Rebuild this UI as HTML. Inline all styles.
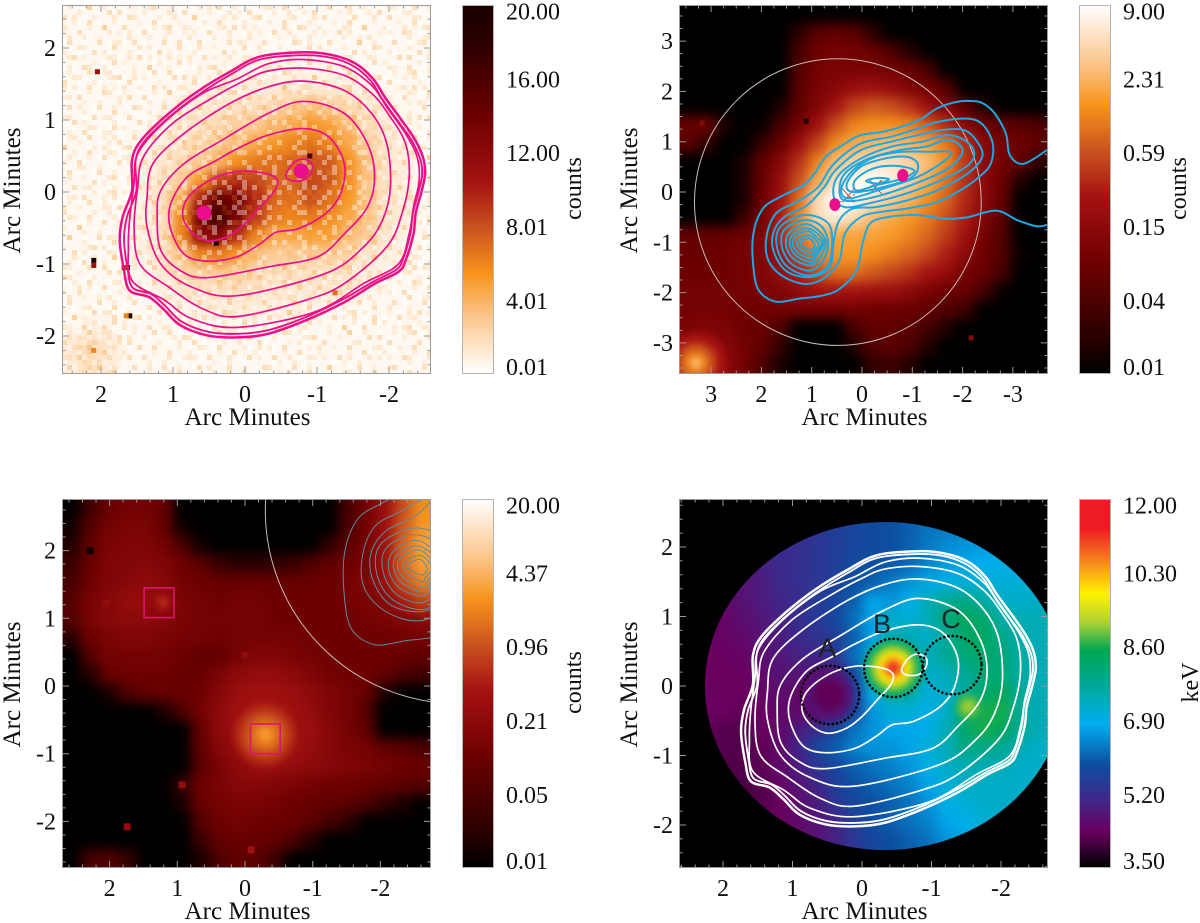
<!DOCTYPE html>
<html lang="en">
<head>
<meta charset="utf-8">
<title>Four panel X-ray maps</title>
<style>
html,body{margin:0;padding:0;background:#fff;}
svg{display:block;}
text{font-family:"Liberation Serif","DejaVu Serif",serif;fill:#111;}
</style>
</head>
<body>
<svg id="figure" xmlns="http://www.w3.org/2000/svg" width="1200" height="923" viewBox="0 0 1200 923">
<defs id="defs">
<filter id="blurFine" filterUnits="userSpaceOnUse" x="-100" y="-100" width="1400" height="1200" color-interpolation-filters="sRGB"><feGaussianBlur stdDeviation="5"/></filter>
<filter id="blurWide" filterUnits="userSpaceOnUse" x="-100" y="-100" width="1400" height="1200" color-interpolation-filters="sRGB"><feGaussianBlur stdDeviation="6"/></filter>
<filter id="blurSoft" filterUnits="userSpaceOnUse" x="-100" y="-100" width="1400" height="1200" color-interpolation-filters="sRGB"><feGaussianBlur stdDeviation="3.2"/></filter>
</defs>
</svg>
<script>
const axisTicksP1 = [2, 1, 0, -1, -2];
const axisTicksP2 = [3, 2, 1, 0, -1, -2, -3];
const axisTicksP3 = [2, 1, 0, -1, -2];
const axisTicksP4 = [2, 1, 0, -1, -2];
const colorLabelsP1 = ["0.01", "4.01", "8.01", "12.00", "16.00", "20.00"];
const colorLabelsP2 = ["0.01", "0.04", "0.15", "0.59", "2.31", "9.00"];
const colorLabelsP3 = ["0.01", "0.05", "0.21", "0.96", "4.37", "20.00"];
const colorLabelsP4 = ["3.50", "5.20", "6.90", "8.60", "10.30", "12.00"];
const colorLabelFractions = [0.019, 0.198, 0.398, 0.599, 0.798, 0.982];

const hotStops = [[0,"#000000"],[10,"#2b0000"],[30,"#6e0000"],[48,"#a51212"],[60,"#c8501e"],[73,"#f7941d"],[85,"#fcc890"],[100,"#ffffff"]];
const invertedHotStops = [[0,"#ffffff"],[15,"#fcc890"],[27,"#f7941d"],[40,"#c8501e"],[52,"#a51212"],[70,"#6e0000"],[90,"#2b0000"],[100,"#1a0000"]];
const spectrumStops = [[0,"#000000"],[10,"#6a0060"],[19,"#3b2a8c"],[28,"#0d4ea0"],[39,"#00aeef"],[49,"#00a99d"],[59,"#00a651"],[67,"#b5d334"],[74.5,"#fff200"],[82,"#f7941d"],[92,"#ed1c24"],[100,"#ed1c24"]];

const levelsP1 = [
[2,2,2,2,2,2,2,2,2,2,2,2,2,2,2,2,2,2,2,2],
[2,2,2,2,2,2,2,2,2,2,2,2,2,2,2,2,2,2,2,2],
[2,2,2,2,2,2,2,2,2,2,2,2,2,2,2,2,2,2,2,2],
[2,2,2,2,2,2,2,2,3,3,3,3,3,3,3,3,2,2,2,2],
[2,2,2,2,2,2,3,3,4,4,5,6,6,6,6,5,3,2,2,2],
[2,2,2,2,2,3,4,6,7,8,9,11,14,17,14,11,7,4,2,2],
[2,2,2,2,2,4,6,8,11,13,15,18,22,26,24,17,10,6,3,2],
[2,2,2,2,3,5,8,11,14,17,22,26,30,33,30,22,13,7,4,2],
[2,2,2,2,4,7,10,14,20,28,32,34,36,40,38,28,16,8,5,2],
[2,2,2,2,5,8,14,26,42,48,42,36,36,42,38,28,16,8,5,2],
[2,2,2,2,5,9,22,50,72,68,48,36,34,40,34,26,16,8,5,2],
[2,2,2,2,5,9,30,68,82,66,44,32,30,32,28,22,16,8,5,2],
[2,2,2,2,5,9,30,60,62,46,30,22,22,24,24,18,14,7,4,2],
[2,2,2,2,4,8,16,30,32,26,17,14,14,14,14,11,7,5,3,2],
[2,2,2,2,3,6,10,13,14,14,11,9,9,8,8,7,5,3,2,2],
[2,2,2,2,2,4,6,7,8,8,7,6,6,6,6,7,3,2,2,2],
[2,2,2,2,2,2,3,4,5,5,5,5,5,4,3,2,2,2,2,2],
[2,5,3,2,2,2,2,2,2,2,2,2,2,2,2,2,2,2,2,2],
[6,11,7,2,2,2,2,2,2,2,2,2,2,2,2,2,2,2,2,2],
[5,9,6,2,2,2,2,2,2,2,2,2,2,2,2,2,2,2,2,2]
];
const levelsP2 = [
[0,0,0,0,0,0,0,0,0,0,0,0,0,0,0,0,0,0,0,0],
[0,0,0,0,0,0,10,24,26,24,10,0,0,0,0,0,0,0,0,0],
[0,0,0,0,0,0,18,30,32,32,28,20,8,0,0,0,0,0,0,0],
[0,0,0,0,0,0,22,32,34,34,34,32,28,18,0,0,0,0,0,0],
[0,0,0,0,0,0,24,34,38,44,46,42,36,32,22,0,0,0,0,0],
[0,0,0,0,0,6,26,36,48,58,62,60,54,44,36,24,8,0,0,0],
[28,28,6,0,2,18,32,46,60,70,72,72,70,62,52,38,30,26,24,20],
[24,12,0,0,14,28,44,58,72,78,80,82,80,76,68,54,38,32,30,26],
[0,0,0,6,26,38,54,70,82,88,92,92,88,82,72,56,40,32,26,12],
[0,0,0,6,28,44,60,78,92,98,100,96,88,78,66,54,40,30,8,0],
[0,0,0,6,30,46,66,90,100,100,92,86,80,72,64,52,40,28,0,0],
[0,0,0,14,32,50,70,90,96,90,82,78,74,68,60,50,36,24,0,0],
[28,28,28,30,36,52,66,78,78,76,76,74,70,64,56,46,32,22,0,0],
[28,28,30,32,36,46,60,70,74,74,72,68,64,58,50,40,30,22,2,0],
[30,30,30,32,36,42,50,60,66,66,62,58,54,48,42,32,28,18,0,0],
[32,32,32,32,34,36,42,46,48,48,46,44,40,34,30,28,18,2,0,0],
[32,32,32,30,30,32,32,32,32,32,30,30,28,26,22,16,0,0,0,0],
[34,36,34,30,28,20,0,0,0,18,26,26,24,18,6,0,0,0,0,0],
[40,44,38,32,26,12,0,0,0,8,22,24,20,8,0,0,0,0,0,0],
[46,50,40,32,20,6,0,0,0,0,12,14,8,0,0,0,0,0,0,0]
];
const levelsP3 = [
[0,16,28,32,32,28,0,0,0,0,0,0,0,0,0,18,32,44,60,72],
[4,22,32,34,34,28,4,0,0,0,0,0,0,0,0,20,32,46,62,74],
[8,26,34,36,36,32,20,4,0,0,0,0,0,0,12,24,32,46,64,76],
[14,28,36,36,38,36,30,24,14,10,10,12,14,22,26,30,34,46,64,76],
[18,30,36,38,40,38,32,30,28,28,28,28,28,28,30,32,36,44,60,70],
[22,34,38,42,42,40,34,32,30,32,32,30,30,30,30,32,34,38,50,58],
[22,34,38,40,40,38,34,32,32,32,32,30,30,30,30,30,32,34,36,40],
[10,30,34,36,36,34,32,32,30,32,32,32,32,30,30,30,30,30,32,32],
[0,22,32,32,32,32,30,26,26,32,36,36,34,32,30,30,30,30,28,26],
[0,8,28,30,30,30,28,28,34,40,42,42,40,36,32,30,30,26,20,16],
[0,0,6,20,26,28,28,30,38,44,46,46,44,40,36,32,28,6,0,0],
[0,0,0,0,0,6,20,32,40,46,48,48,46,42,36,32,22,0,0,0],
[0,0,0,0,0,0,0,28,40,46,48,48,46,44,38,32,26,0,0,0],
[0,0,0,0,0,0,0,26,38,44,46,46,46,42,38,34,32,26,24,20],
[0,0,0,0,0,0,0,24,34,40,44,44,42,40,38,36,34,32,30,28],
[0,0,0,0,0,0,12,30,34,38,38,36,34,32,30,30,28,26,24,22],
[0,0,0,0,0,0,6,28,32,34,34,32,30,28,26,24,20,12,6,0],
[0,0,0,0,0,0,0,22,30,32,30,30,28,24,18,10,0,0,0,0],
[0,0,0,0,0,0,0,14,26,28,28,26,20,8,0,0,0,0,0,0],
[0,18,22,14,0,0,0,6,20,26,24,16,0,0,0,0,0,0,0,0]
];
const levelsP4 = [
[15,15,16,17,18,19,20,22,24,26,27,28,30,32,33,34,35,36,36,36],
[15,15,16,17,18,19,20,22,24,26,27,28,30,32,33,34,35,36,36,36],
[14,14,15,16,18,19,20,22,24,26,27,28,30,33,35,36,37,38,38,38],
[13,13,14,15,17,19,20,22,24,27,28,29,31,34,37,38,39,40,40,40],
[12,12,13,14,16,19,20,22,25,28,30,33,36,38,41,42,42,42,42,42],
[11,11,12,14,16,18,20,23,26,30,38,36,40,46,50,52,48,44,44,44],
[10,10,11,13,15,17,20,23,26,32,38,44,42,46,54,58,56,48,46,46],
[10,10,11,12,14,16,19,21,24,30,38,46,46,44,50,56,57,52,47,46],
[10,10,10,11,13,15,17,18,22,32,42,50,50,46,50,54,56,54,48,46],
[10,10,10,10,12,14,14,13,14,26,42,50,50,44,46,50,54,54,48,46],
[10,10,10,10,11,13,11,11,11,22,40,48,48,42,44,48,56,58,50,46],
[10,10,10,9,10,12,12,11,14,24,36,42,42,40,44,54,60,60,50,46],
[9,9,8,8,10,12,16,20,26,32,36,38,38,40,46,56,60,58,50,46],
[8,8,8,8,9,12,18,26,30,34,36,36,38,42,46,52,52,50,46,44],
[6,6,7,8,9,12,16,22,26,30,32,34,36,40,44,46,46,46,44,44],
[5,5,6,7,8,11,14,18,24,28,30,32,34,38,42,44,44,44,44,44],
[4,4,5,6,8,10,13,16,22,26,28,30,32,36,40,42,44,44,44,44],
[4,4,5,6,8,10,12,14,18,24,28,30,32,34,38,40,42,42,42,42],
[4,4,5,6,8,10,12,14,17,22,26,28,30,32,36,38,40,40,40,40],
[4,4,5,6,8,10,12,14,17,22,26,28,30,32,36,38,40,40,40,40]
];

/* extended sources: x, y (arcmin), radius (arcmin), level */
const sourcesP2 = [[3.30,-3.40,0.60,48],[3.30,-3.40,0.42,58],[3.30,-3.40,0.27,68],[3.30,-3.40,0.14,76],[3.30,-3.40,0.05,92]];
const sourcesP3 = [[-0.30,-0.72,0.46,52],[-0.30,-0.72,0.36,58],[-0.30,-0.72,0.26,64],[-0.30,-0.72,0.16,70],[-0.30,-0.72,0.07,76],[1.21,1.24,0.14,46],[1.21,1.24,0.06,56]];
const sourcesP4 = [[-0.45,0.26,0.42,56],[-0.45,0.26,0.35,63],[-0.45,0.26,0.28,70],[-0.45,0.26,0.21,76],[-0.45,0.26,0.14,84],[-0.45,0.26,0.07,96],[-1.53,-0.30,0.18,62],[-1.53,-0.30,0.10,66],[0.48,-0.13,0.34,14],[0.48,-0.13,0.22,9]];

/* single bright pixels: x, y (arcmin), level */
const pixelsP1 = [[2.10,-0.95,98],[2.10,-1.02,55],[1.63,-1.05,96],[1.68,-1.05,45],[1.60,-1.72,98],[1.65,-1.72,30],[2.05,1.67,55],[0.40,-0.71,95],[0.55,-0.23,98],[-0.90,0.50,80],[-1.25,-1.40,34],[2.10,-2.20,30]];
const pixelsP2 = [[-2.17,-2.90,38],[3.18,1.37,38],[1.11,1.41,8]];
const pixelsP3 = [[2.05,1.22,42],[0.93,-1.46,42],[1.74,-2.08,42],[-0.09,-2.42,46],[2.29,2.00,4],[0.00,0.45,40]];
const pixelsP4 = [];

/* X-ray contours in arcminutes, used in the counts map and the temperature map */
const xrayContours = [
[[-0.82,1.94],[-1.22,1.90],[-1.54,1.78],[-1.78,1.57],[-1.94,1.32],[-2.13,1.06],[-2.34,0.76],[-2.47,0.49],[-2.50,0.25],[-2.45,0],[-2.37,-0.30],[-2.34,-0.58],[-2.23,-0.95],[-2.13,-1.11],[-1.81,-1.27],[-1.38,-1.53],[-0.85,-1.78],[-0.32,-1.97],[0.11,-2.02],[0.53,-1.99],[0.90,-1.85],[1.14,-1.62],[1.33,-1.46],[1.60,-1.37],[1.68,-1.09],[1.74,-0.67],[1.70,-0.35],[1.57,0.02],[1.57,0.44],[1.44,0.72],[1.06,1.09],[0.64,1.41],[0.21,1.67],[-0.21,1.88]],
[[-0.82,1.90],[-1.22,1.86],[-1.52,1.74],[-1.75,1.54],[-1.90,1.30],[-2.09,1.03],[-2.30,0.74],[-2.43,0.47],[-2.46,0.24],[-2.41,0],[-2.33,-0.30],[-2.30,-0.56],[-2.20,-0.92],[-2.10,-1.08],[-1.79,-1.24],[-1.36,-1.49],[-0.84,-1.74],[-0.32,-1.92],[0.11,-1.97],[0.52,-1.94],[0.88,-1.80],[1.11,-1.58],[1.30,-1.42],[1.56,-1.33],[1.63,-1.07],[1.68,-0.66],[1.64,-0.35],[1.51,0.02],[1.52,0.43],[1.40,0.70],[1.03,1.06],[0.62,1.37],[0.20,1.63],[-0.21,1.84]],
[[-0.82,1.84],[-1.38,1.74],[-1.76,1.48],[-1.97,1.18],[-2.23,0.81],[-2.39,0.49],[-2.42,0.16],[-2.34,-0.21],[-2.28,-0.58],[-2.13,-1.00],[-1.65,-1.27],[-0.96,-1.67],[0.11,-1.88],[0.74,-1.76],[1.12,-1.50],[1.57,-1.23],[1.62,-0.76],[1.60,-0.35],[1.54,0.12],[1.49,0.53],[1.12,0.97],[0.59,1.37],[0.11,1.57],[-0.32,1.78]],
[[-0.82,1.72],[-1.38,1.62],[-1.76,1.37],[-2.02,1.04],[-2.23,0.67],[-2.28,0.21],[-2.18,-0.30],[-1.97,-0.76],[-1.38,-1.27],[-0.85,-1.50],[0.11,-1.73],[0.59,-1.62],[1.06,-1.32],[1.46,-1.00],[1.54,-0.49],[1.49,0.07],[1.41,0.49],[1.01,0.95],[0.43,1.32],[0,1.55],[-0.32,1.68]],
[[-0.82,1.54],[-1.38,1.41],[-1.76,1.09],[-1.97,0.67],[-2.02,0.07],[-1.91,-0.39],[-1.65,-0.76],[-1.12,-1.13],[0.11,-1.44],[0.74,-1.32],[1.17,-1.00],[1.36,-0.49],[1.36,-0.07],[1.28,0.39],[0.85,0.81],[0.21,1.23],[-0.32,1.46]],
[[-0.82,1.26],[-1.38,1.09],[-1.70,0.67],[-1.80,0.21],[-1.70,-0.21],[-1.38,-0.58],[-1.01,-0.90],[-0.32,-1.04],[0.53,-1.19],[0.90,-1.09],[1.17,-0.81],[1.22,-0.35],[1.17,0.02],[0.85,0.39],[0.32,0.72],[-0.32,1.09]],
[[0.11,0.60],[-0.32,0.79],[-0.82,0.88],[-1.17,0.76],[-1.38,0.39],[-1.33,-0.02],[-1.12,-0.30],[-0.74,-0.51],[-0.43,-0.56],[-0.21,-0.72],[0.11,-0.90],[0.53,-0.96],[0.85,-0.86],[1.04,-0.49],[1.03,-0.16],[0.80,0.21],[0.43,0.42]],
[[0,0.29],[-0.32,0.25],[-0.45,0.16],[-0.40,0],[-0.21,-0.21],[0,-0.44],[0.21,-0.60],[0.48,-0.68],[0.69,-0.60],[0.84,-0.42],[0.86,-0.23],[0.77,-0.05],[0.53,0.14],[0.27,0.25]],
[[-0.80,0.46],[-0.93,0.39],[-0.91,0.25],[-0.80,0.16],[-0.64,0.16],[-0.57,0.23],[-0.66,0.39]]
];
const xrayContourWidths = [2.5,1.9,1.7,1.7,1.7,1.7,1.7,1.7,1.7];

/* lensing contours in arcminutes */
const lensingOuter = [[-3.70,0.85],[-3.21,0.56],[-2.94,0.73],[-2.86,1.16],[-2.64,1.56],[-2.41,1.76],[-2.18,1.81],[-1.87,1.79],[-1.49,1.66],[-1.19,1.46],[-0.88,1.33],[-0.43,1.20],[0.03,1.13],[0.34,0.96],[0.72,0.70],[0.94,0.37],[1.17,0.13],[1.63,-0.10],[1.97,-0.33],[2.16,-0.83],[2.16,-1.49],[2.05,-1.96],[1.71,-2.18],[1.25,-2.12],[0.79,-2.06],[0.45,-1.93],[0.11,-1.56],[-0.01,-1.03],[-0.16,-0.63],[-0.50,-0.50],[-1.11,-0.46],[-1.65,-0.53],[-2.10,-0.50],[-2.67,-0.37],[-3.09,-0.56],[-3.47,-0.68],[-3.70,-0.65]];
const lensingClosed = [
[[-2.10,1.46],[-2.41,1.33],[-2.60,0.96],[-2.56,0.56],[-2.33,0.30],[-1.95,0.03],[-1.49,-0.20],[-0.88,-0.33],[-0.35,-0.40],[0.03,-0.50],[0.34,-0.83],[0.45,-1.36],[0.72,-1.69],[1.10,-1.83],[1.55,-1.69],[1.86,-1.36],[1.90,-0.90],[1.71,-0.43],[1.25,-0.17],[0.87,0.10],[0.56,0.56],[0.03,0.96],[-0.58,1.10],[-1.11,1.26],[-1.49,1.39]],
[[-2.03,1.23],[-2.29,1.0],[-2.39,0.70],[-2.10,0.37],[-1.49,0.03],[-0.88,-0.17],[-0.27,-0.30],[0.18,-0.33],[0.45,-0.56],[0.56,-0.96],[0.64,-1.49],[1.02,-1.69],[1.48,-1.59],[1.74,-1.23],[1.77,-0.83],[1.55,-0.50],[1.10,-0.27],[0.75,0.10],[0.53,0.43],[0.03,0.83],[-0.58,1.0],[-1.11,1.13],[-1.57,1.23]],
[[-1.99,1.06],[-2.22,0.83],[-2.14,0.56],[-1.65,0.27],[-0.88,-0.03],[-0.12,-0.23],[0.34,-0.30],[0.56,-0.10],[0.49,0.30],[0.03,0.66],[-0.58,0.90],[-1.19,1.0],[-1.65,1.13]],
[[-1.91,0.96],[-1.99,0.76],[-1.65,0.43],[-0.88,0.10],[-0.12,-0.13],[0.34,-0.17],[0.45,0.03],[0.34,0.37],[-0.12,0.66],[-0.73,0.83],[-1.26,0.90],[-1.65,1.03]],
[[-1.76,0.80],[-1.65,0.63],[-1.11,0.30],[-0.43,0.07],[0.26,-0.13],[0.41,0.07],[0.18,0.43],[-0.27,0.70],[-0.81,0.80],[-1.34,0.80]],
[[-1.11,0.56],[-1.0,0.30],[-0.43,0.10],[0.18,0],[0.30,0.17],[0.03,0.50],[-0.43,0.66],[-0.88,0.70]],
[[-1.04,0.43],[-0.81,0.27],[-0.27,0.13],[0.11,0.03],[0.14,0.23],[-0.20,0.46],[-0.65,0.52]],
[[-0.54,0.25],[-0.31,0.17],[-0.08,0.22],[-0.31,0.28]],
[[0.60,-0.83],[0.66,-1.43],[1.02,-1.66],[1.48,-1.49],[1.69,-1.10],[1.63,-0.70],[1.17,-0.46],[0.75,-0.56]],
[[0.68,-0.96],[0.75,-1.33],[1.02,-1.56],[1.40,-1.43],[1.59,-1.10],[1.55,-0.76],[1.17,-0.56],[0.83,-0.66]],
[[0.72,-1.0],[0.83,-1.30],[1.02,-1.46],[1.36,-1.33],[1.51,-1.06],[1.44,-0.80],[1.13,-0.64],[0.87,-0.76]],
[[0.76,-1.02],[0.90,-1.26],[1.01,-1.40],[1.32,-1.26],[1.44,-1.02],[1.36,-0.83],[1.10,-0.72],[0.88,-0.83]],
[[0.80,-1.03],[0.93,-1.23],[1.01,-1.33],[1.28,-1.20],[1.38,-1.02],[1.29,-0.86],[1.06,-0.78],[0.90,-0.90]],
[[0.86,-1.05],[0.96,-1.18],[1.01,-1.25],[1.22,-1.14],[1.30,-1.02],[1.22,-0.92],[1.05,-0.86],[0.94,-0.93]],
[[0.94,-1.05],[1.01,-1.15],[1.18,-1.08],[1.22,-1.0],[1.05,-0.92]]
];
const lensingOffsetP3 = [-3.63, 2.79];

const galaxyPointsP1 = [[0.57,-0.29],[-0.78,0.29]];
const galaxyPointsP2 = [[0.54,-0.25],[-0.81,0.33]];
const crossPointsP2 = [[-0.27,0.10],[0.27,-0.07]];
const fieldCircleP2 = [0.48,-0.20,2.85];
const boxRegionsP3 = [[1.27,1.23,0.22],[-0.30,-0.78,0.22]];
const extractionCirclesP4 = [[0.46,-0.13,0.42],[-0.45,0.26,0.42],[-1.30,0.30,0.42]];
const regionLabelsP4 = [["A",0.50,0.56],["B",-0.29,0.91],["C",-1.28,0.98]];
const diskP4 = [-0.33,0,2.59,2.36];
const noiseTileA = ["w.w..o...w..",".....w.w.o.w","w.o.w.....o.","...w...w...w","o....w..o.w.","w..w.....o.w",".o...w.w....","w...w....w.o",".w.o..w.....","...w..w..w..",".o..w....o.w","w.....w.w..."];
const noiseTileB = [".p...o..p....","...p.....p.o.","o.....p......","..p..o....p..",".....p..o...p","p..o.......p.","....p..p.....",".o.....o..p..","....p.....o..","p.....o.p....","..o.p.....p..","......p...o.p",".p..o...p...."];

const NS = "http://www.w3.org/2000/svg";
const svg = document.getElementById("figure");
const defs = document.getElementById("defs");

function mk(parent, tag, attrs, text) {
  const el = document.createElementNS(NS, tag);
  for (const k in attrs) el.setAttribute(k, attrs[k]);
  if (text !== undefined) el.textContent = text;
  parent.appendChild(el);
  return el;
}
function hex(c){return [parseInt(c.slice(1,3),16),parseInt(c.slice(3,5),16),parseInt(c.slice(5,7),16)];}
function colorAt(stops, v) {
  if (v <= stops[0][0]) return stops[0][1];
  for (let i = 1; i < stops.length; i++) {
    if (v <= stops[i][0]) {
      const a = stops[i-1], b = stops[i], t = (v-a[0])/(b[0]-a[0]);
      const ca = hex(a[1]), cb = hex(b[1]);
      return "rgb(" + ca.map((c,j)=>Math.round(c+(cb[j]-c)*t)).join(",") + ")";
    }
  }
  return stops[stops.length-1][1];
}
function smoothPath(pts, closed) {
  const n = pts.length;
  const at = i => closed ? pts[(i+n)%n] : pts[Math.max(0,Math.min(n-1,i))];
  let d = "M" + pts[0][0].toFixed(1) + " " + pts[0][1].toFixed(1);
  const last = closed ? n : n-1;
  for (let i = 0; i < last; i++) {
    const p0=at(i-1),p1=at(i),p2=at(i+1),p3=at(i+2);
    d += "C"+(p1[0]+(p2[0]-p0[0])/6).toFixed(1)+" "+(p1[1]+(p2[1]-p0[1])/6).toFixed(1)+" "+(p2[0]-(p3[0]-p1[0])/6).toFixed(1)+" "+(p2[1]-(p3[1]-p1[1])/6).toFixed(1)+" "+p2[0].toFixed(1)+" "+p2[1].toFixed(1);
  }
  return d + (closed ? "Z" : "");
}

const panels = [
 {id:"p1",l:62,r:431,t:5,b:374,cx:245,cy:192,s:72,ticks:axisTicksP1,minor:0.2,levels:levelsP1,stops:invertedHotStops,sources:[],pixels:pixelsP1,pixelSize:5,blur:"blurFine",bg:"#ffffff",labels:colorLabelsP1,unit:"counts",cbL:462,tickRight:56,yTitleX:20,cbText:506,unitX:581},
 {id:"p2",l:679,r:1048,t:5,b:374,cx:862,cy:192,s:50.3,ticks:axisTicksP2,minor:0.25,levels:levelsP2,stops:hotStops,sources:sourcesP2,pixels:pixelsP2,pixelSize:5,blur:"blurWide",bg:"#000000",labels:colorLabelsP2,unit:"counts",cbL:1079,tickRight:673,yTitleX:637,cbText:1123,unitX:1186},
 {id:"p3",l:62,r:431,t:499,b:868,cx:245,cy:686,s:67.7,ticks:axisTicksP3,minor:0.2,levels:levelsP3,stops:hotStops,sources:sourcesP3,pixels:pixelsP3,pixelSize:7,blur:"blurWide",bg:"#000000",labels:colorLabelsP3,unit:"counts",cbL:462,tickRight:56,yTitleX:20,cbText:506,unitX:581},
 {id:"p4",l:679,r:1048,t:499,b:868,cx:862,cy:686,s:69.5,ticks:axisTicksP4,minor:0.2,levels:levelsP4,stops:spectrumStops,sources:sourcesP4,pixels:pixelsP4,pixelSize:5,blur:"blurWide",bg:"#000000",labels:colorLabelsP4,unit:"keV",cbL:1079,tickRight:673,yTitleX:637,cbText:1123,unitX:1198}
];
const xOf = (p,v) => p.cx - v*p.s;
const yOf = (p,v) => p.cy - v*p.s;

function contourPath(parent, p, points, closed, color, width, dx, dy) {
  const px = points.map(q => [xOf(p,q[0]+(dx||0)), yOf(p,q[1]+(dy||0))]);
  const c = mk(parent,"path",{d:smoothPath(px,closed),fill:"none",stroke:color,"stroke-width":width,"stroke-linejoin":"round"});
  
  
  return c;
}
function buildTile(id, tile, alphaW, alphaO, alphaP) {
  const size = tile.length*5;
  const pat = mk(defs,"pattern",{id:id,patternUnits:"userSpaceOnUse",x:62,y:5,width:size,height:size});
  tile.forEach((row,j)=>{
    [...row].forEach((ch,i)=>{
      if (ch === ".") return;
      const color = ch==="w" ? "#ffffff" : "#f7941d";
      const alpha = ch==="w" ? alphaW : (ch==="o" ? alphaO : alphaP);
      mk(pat,"rect",{x:i*5,y:j*5,width:5,height:5,fill:color,"fill-opacity":alpha});
    });
  });
}
buildTile("noiseA", noiseTileA, 0.38, 0.16, 0);
buildTile("noiseB", noiseTileB, 0, 0.26, 0.11);

panels.forEach(p => {
  const clip = mk(defs,"clipPath",{id:"clip-"+p.id});
  mk(clip,"rect",{x:p.l,y:p.t,width:p.r-p.l,height:p.b-p.t});

  const group = mk(svg,"g",{});
  
  

  const frameClip = mk(group,"g",{"clip-path":"url(#clip-"+p.id+")"});
  
  

  const bg = mk(frameClip,"rect",{x:p.l,y:p.t,width:p.r-p.l,height:p.b-p.t,fill:p.bg});
  
  

  let heatHost = frameClip;
  if (p.id === "p4") {
    const diskClip = mk(defs,"clipPath",{id:"disk-p4"});
    mk(diskClip,"ellipse",{cx:xOf(p,diskP4[0]),cy:yOf(p,diskP4[1]),rx:diskP4[2]*p.s,ry:diskP4[3]*p.s});
    heatHost = mk(frameClip,"g",{"clip-path":"url(#disk-p4)"});
    
    
  }
  const heat = mk(heatHost,"g",{filter:"url(#"+p.blur+")"});
  
  

  const rows = p.levels.length, cols = p.levels[0].length;
  const cw = (p.r-p.l)/cols, ch = (p.b-p.t)/rows, pad = 30;
  p.levels.forEach((row,j) => row.forEach((v,i) => {
    const x0 = p.l+i*cw-(i===0?pad:0), x1 = p.l+(i+1)*cw+(i===cols-1?pad:0)+0.6;
    const y0 = p.t+j*ch-(j===0?pad:0), y1 = p.t+(j+1)*ch+(j===rows-1?pad:0)+0.6;
    const cell = mk(heat,"rect",{x:x0.toFixed(1),y:y0.toFixed(1),width:(x1-x0).toFixed(1),height:(y1-y0).toFixed(1),fill:colorAt(p.stops,v)});
    
    
  }));
  const srcGroup = mk(heatHost,"g",{filter:"url(#blurSoft)"});
  
  
  p.sources.forEach(s => {
    const src = mk(srcGroup,"circle",{cx:xOf(p,s[0]),cy:yOf(p,s[1]),r:s[2]*p.s,fill:colorAt(p.stops,s[3])});
    
    
  });
  if (p.id === "p1") {
    ["noiseA","noiseB"].forEach(id => {
      const noise = mk(frameClip,"rect",{x:p.l,y:p.t,width:p.r-p.l,height:p.b-p.t,fill:"url(#"+id+")"});
      
      
    });
  }
  p.pixels.forEach(q => {
    const px = mk(frameClip,"rect",{x:xOf(p,q[0])-p.pixelSize/2,y:yOf(p,q[1])-p.pixelSize/2,width:p.pixelSize,height:p.pixelSize,fill:colorAt(p.stops,q[2])});
    
    
  });

  if (p.id === "p1" || p.id === "p4") {
    const color = p.id === "p1" ? "#ea1089" : "#ffffff";
    xrayContours.forEach((c,i) => contourPath(frameClip,p,c,true,color,xrayContourWidths[i]));
  }
  if (p.id === "p1") {
    galaxyPointsP1.forEach(g => {
      const dot = mk(frameClip,"circle",{cx:xOf(p,g[0]),cy:yOf(p,g[1]),r:7.5,fill:"#ec0d8c"});
      
      
    });
  }
  if (p.id === "p2") {
    const ring = mk(frameClip,"circle",{cx:xOf(p,fieldCircleP2[0]),cy:yOf(p,fieldCircleP2[1]),r:fieldCircleP2[2]*p.s,fill:"none",stroke:"#c9bcb4","stroke-width":1});
    
    
    crossPointsP2.forEach(c => {
      const cross = mk(frameClip,"path",{d:"M"+(xOf(p,c[0])-6)+" "+(yOf(p,c[1])-7)+"L"+(xOf(p,c[0])+6)+" "+(yOf(p,c[1])+7)+"M"+(xOf(p,c[0])+6)+" "+(yOf(p,c[1])-7)+"L"+(xOf(p,c[0])-6)+" "+(yOf(p,c[1])+7),stroke:"#b5472a","stroke-width":0.9,fill:"none"});
      
      
    });
    const link = mk(frameClip,"line",{x1:xOf(p,galaxyPointsP2[0][0]),y1:yOf(p,galaxyPointsP2[0][1]),x2:xOf(p,-0.42),y2:yOf(p,0.24),stroke:"#b5472a","stroke-width":0.8,"stroke-dasharray":"3 2"});
    
    
    contourPath(frameClip,p,lensingOuter,false,"#1ea7e0",2);
    lensingClosed.forEach(c => contourPath(frameClip,p,c,true,"#1ea7e0",2));
    galaxyPointsP2.forEach(g => {
      const dot = mk(frameClip,"ellipse",{cx:xOf(p,g[0]),cy:yOf(p,g[1]),rx:5.5,ry:6.5,fill:"#ec0d8c"});
      
      
    });
  }
  if (p.id === "p3") {
    const ring = mk(frameClip,"circle",{cx:xOf(p,fieldCircleP2[0]+lensingOffsetP3[0]),cy:yOf(p,fieldCircleP2[1]+lensingOffsetP3[1]),r:fieldCircleP2[2]*p.s,fill:"none",stroke:"#c9bcb4","stroke-width":1});
    
    
    contourPath(frameClip,p,lensingOuter,false,"#5f8d9e",1,lensingOffsetP3[0],lensingOffsetP3[1]);
    lensingClosed.forEach(c => contourPath(frameClip,p,c,true,"#5f8d9e",1,lensingOffsetP3[0],lensingOffsetP3[1]));
    boxRegionsP3.forEach(b => {
      const box = mk(frameClip,"rect",{x:xOf(p,b[0]+b[2]),y:yOf(p,b[1]+b[2]),width:2*b[2]*p.s,height:2*b[2]*p.s,fill:"none",stroke:"#d9166f","stroke-width":1.6});
      
      
    });
  }
  if (p.id === "p4") {
    extractionCirclesP4.forEach(c => {
      const ring = mk(frameClip,"circle",{cx:xOf(p,c[0]),cy:yOf(p,c[1]),r:c[2]*p.s,fill:"none",stroke:"#000","stroke-width":2.6,"stroke-dasharray":"0.1 4.2","stroke-linecap":"round"});
      
      
    });
    regionLabelsP4.forEach(l => {
      const t = mk(frameClip,"text",{x:xOf(p,l[1]),y:yOf(p,l[2])+10,"text-anchor":"middle","font-size":27,style:'font-family:"Liberation Sans",sans-serif;fill:#222;font-weight:normal'},l[0]);
      
      
    });
  }

  /* axes */
  const axes = mk(group,"g",{fill:"none",stroke:"#9a9a9a","stroke-width":1});
  
  
  const frame = mk(axes,"rect",{x:p.l+.5,y:p.t+.5,width:p.r-p.l-1,height:p.b-p.t-1});
  
  
  const lim = Math.ceil(3.7/p.minor);
  for (let k = -lim; k <= lim; k++) {
    const v = k*p.minor, major = Math.abs(v-Math.round(v)) < 1e-6, len = major ? 7 : 3.5;
    const X = xOf(p,v), Y = yOf(p,v);
    if (X > p.l && X < p.r) {
      const t1 = mk(axes,"path",{d:"M"+X+" "+p.b+"v"+(-len)+"M"+X+" "+p.t+"v"+len});
      
      
    }
    if (Y > p.t && Y < p.b) {
      const t2 = mk(axes,"path",{d:"M"+p.l+" "+Y+"h"+len+"M"+p.r+" "+Y+"h"+(-len)});
      
      
    }
  }
  p.ticks.forEach(v => {
    const xl = mk(group,"text",{x:xOf(p,v),y:p.b+28,"text-anchor":"middle","font-size":24},String(v));
    
    
    const yl = mk(group,"text",{x:p.tickRight,y:yOf(p,v)+8,"text-anchor":"end","font-size":24},String(v));
    
    
  });
  const xt = mk(group,"text",{x:(p.l+p.r)/2+1,y:p.b+51,"text-anchor":"middle","font-size":25,textLength:126,lengthAdjust:"spacingAndGlyphs"},"Arc Minutes");
  
  
  const yMid = (p.t+p.b)/2+1;
  const yt = mk(group,"text",{x:p.yTitleX,y:yMid,"text-anchor":"middle","font-size":25,textLength:126,lengthAdjust:"spacingAndGlyphs",transform:"rotate(-90 "+p.yTitleX+" "+yMid+")"},"Arc Minutes");
  
  

  /* colour bar */
  const grad = mk(defs,"linearGradient",{id:"cb-"+p.id,x1:0,y1:1,x2:0,y2:0});
  p.stops.forEach(s => mk(grad,"stop",{offset:s[0]+"%","stop-color":s[1]}));
  const cbar = mk(group,"rect",{x:p.cbL+.5,y:p.t+.5,width:31,height:p.b-p.t-1,fill:"url(#cb-"+p.id+")",stroke:"#b4b4b4","stroke-width":1});
  
  
  p.labels.forEach((lab,i) => {
    const y = p.b - colorLabelFractions[i]*(p.b-p.t) + 8;
    const cl = mk(group,"text",{x:p.cbText,y:y,"font-size":24},lab);
    
    
  });
  const um = (p.t+p.b)/2 - 1;
  const ut = mk(group,"text",{x:p.unitX,y:um,"text-anchor":"middle","font-size":24,transform:"rotate(-90 "+p.unitX+" "+um+")"},p.unit);
  
  
});
</script>
</body>
</html>
